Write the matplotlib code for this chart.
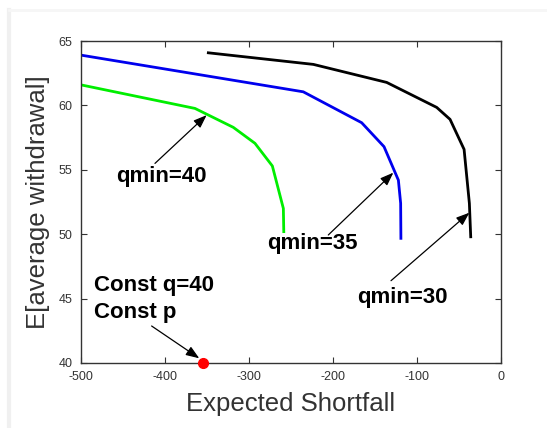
import matplotlib
matplotlib.use("Agg")
import matplotlib.pyplot as plt
from matplotlib.lines import Line2D

plt.rcParams['font.family'] = ['Liberation Sans', 'DejaVu Sans']

# qmin = 40 (green)
es_q40 = [-500, -364.3, -318.7, -292.9, -272.2, -259.1, -258.6]
ew_q40 = [61.6, 59.77, 58.3, 57.06, 55.3, 52.0, 50.2]
# qmin = 35 (blue)
es_q35 = [-500, -235.4, -165.9, -139.3, -122.2, -119.5, -119.2]
ew_q35 = [63.91, 61.06, 58.66, 56.8, 54.2, 52.4, 49.68]
# qmin = 30 (black)
es_q30 = [-348.4, -223.4, -136.1, -76.6, -60.7, -44.0, -37.7, -36.1]
ew_q30 = [64.09, 63.19, 61.79, 59.85, 58.92, 56.59, 52.4, 49.8]
# constant q=40, constant p
es_const = [-354.4]
ew_const = [40.0]

xticks = [-500, -400, -300, -200, -100, 0]
yticks = [40, 45, 50, 55, 60, 65]

fig = plt.figure(figsize=(5.47, 4.28), dpi=100)
fig.patch.set_facecolor('white')
# faint card shadow edges
fig.add_artist(Line2D([0.016, 0.016], [0.0, 0.977], transform=fig.transFigure,
                      color='#f0f0f0', lw=3))
fig.add_artist(Line2D([0.016, 1.0], [0.977, 0.977], transform=fig.transFigure,
                      color='#f6f6f6', lw=2))

ax = fig.add_axes([0.148, 0.152, 0.768, 0.752])
ax.plot(es_q40, ew_q40, color='#00ee00', lw=2)
ax.plot(es_q35, ew_q35, color='#0000ee', lw=2)
ax.plot(es_q30, ew_q30, color='black', lw=2)
ax.plot(es_const, ew_const, 'o', color='red', ms=7, clip_on=False, zorder=5)

ax.set_xlim(-500, 0)
ax.set_ylim(40, 65)
ax.set_xticks(xticks)
ax.set_yticks(yticks)
ax.set_xticklabels([str(v) for v in xticks])
ax.set_yticklabels([str(v) for v in yticks])
ax.tick_params(direction='in', top=True, right=True, labelsize=9,
               labelcolor='#333333', color='#333333', length=4)
ax.tick_params(axis='x', pad=6)
ax.tick_params(axis='y', pad=6)
for s in ax.spines.values():
    s.set_color('#333333')
    s.set_linewidth(1.0)

ax.set_xlabel('Expected Shortfall', fontsize=18.5, color='#333333', labelpad=6)
ax.set_ylabel('E[average withdrawal]', fontsize=18.5, color='#333333', labelpad=6)

ann = dict(fontsize=16, fontweight='bold', color='black')
arrow = dict(arrowstyle='-|>,head_length=0.8,head_width=0.3', color='black', lw=0.9,
             shrinkA=0, shrinkB=0)

ax.text(-404.8, 54.5, 'qmin=40', ha='center', va='center', **ann)
ax.annotate('', xy=(-350.4, 59.25), xytext=(-411.9, 55.5), arrowprops=arrow)

ax.text(-225, 49.24, 'qmin=35', ha='center', va='center', **ann)
ax.annotate('', xy=(-128.2, 54.78), xytext=(-205.6, 49.94), arrowprops=arrow)

ax.text(-117.9, 45.12, 'qmin=30', ha='center', va='center', **ann)
ax.annotate('', xy=(-37.7, 51.67), xytext=(-130.95, 46.39), arrowprops=arrow)

ax.text(-484.2, 44.97, 'Const q=40\nConst p', ha='left', va='center',
        linespacing=1.35, **ann)
ax.annotate('', xy=(-359.2, 40.36), xytext=(-415.9, 42.87), arrowprops=arrow)

fig.savefig('out.png', dpi=100)
